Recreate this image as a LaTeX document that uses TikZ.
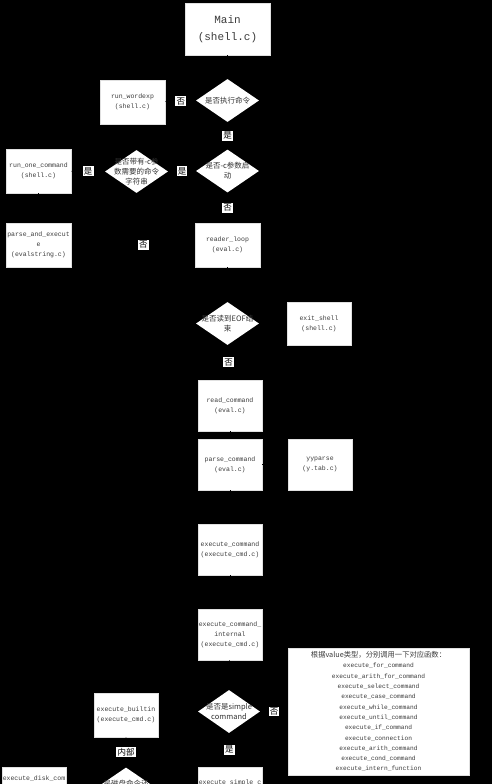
\documentclass[tikz,border=0pt]{standalone}
\usepackage{fontspec}
\setmonofont{Liberation Mono}
\newfontfamily\cjk{Noto Sans CJK SC}
\usetikzlibrary{arrows.meta,positioning,shapes.geometric}
\definecolor{txtgray}{RGB}{60,60,60}
\tikzset{
  fbox/.style={draw=black!12, fill=white, inner sep=0pt, align=center, text=txtgray,
    font=\ttfamily\fontsize{6.5}{10}\selectfont, minimum width=65pt, minimum height=44pt},
  tallbox/.style={fbox, minimum width=64pt, minimum height=51pt},
  ask/.style={diamond, fill=white, inner sep=0pt, minimum width=63pt, minimum height=43pt},
  asktext/.style={align=center, text=black!80, font=\cjk\fontsize{7.5}{10}\selectfont},
  tag/.style={fill=white, inner sep=1.2pt, text=black, font=\cjk\fontsize{8.5}{9}\selectfont},
  flow/.style={draw=black, -{Stealth[length=4pt]}}
}
\begin{document}
\begin{tikzpicture}[x=1pt,y=-1pt]
  \fill[black] (0,0) rectangle (492,784);
  \useasboundingbox (0,0) rectangle (492,784);
  \clip (0,0) rectangle (492,784);

  % entry and start-up checks
  \node[fbox, minimum width=85pt, minimum height=52pt, font=\ttfamily\fontsize{11}{17}\selectfont]
    (main) at (227.5,29) {Main\\(shell.c)};
  \node[ask, label={[asktext]center:是否执行命令}] (askexec) at (227.5,100.5) {};
  \node[fbox] (wordexp) at (132.5,102) {run\_wordexp\\(shell.c)};
  \node[ask, label={[asktext]center:{是否-c参数启\\动}}] (askc) at (227.5,171) {};
  \node[ask, label={[asktext]center:{是否带有-c参\\数需要的命令\\字符串}}] (askstr) at (136.5,171.5) {};
  \node[fbox] (runone) at (38.5,171) {run\_one\_command\\(shell.c)};
  \node[fbox] (parseexec) at (38.5,245) {parse\_and\_execut\\e\\(evalstring.c)};
  \node[fbox] (reader) at (227.5,245) {reader\_loop\\(eval.c)};

  % read loop
  \node[ask, label={[asktext]center:{是否读到EOF结\\束}}] (askeof) at (227.5,323.5) {};
  \node[fbox, minimum width=64pt, minimum height=43pt] (exitsh) at (319,323.5) {exit\_shell\\(shell.c)};
  \node[tallbox] (readcmd) at (230,405.5) {read\_command\\(eval.c)};
  \node[tallbox] (parsecmd) at (230,464.5) {parse\_command\\(eval.c)};
  \node[tallbox] (yyparse) at (320,464.5) {yyparse\\(y.tab.c)};
  \node[tallbox] (execcmd) at (230,549.5) {execute\_command\\(execute\_cmd.c)};
  \node[tallbox] (execint) at (230,634.5) {execute\_command\_\\internal\\(execute\_cmd.c)};

  % command dispatch
  \node[ask, minimum width=62pt, label={[asktext]center:{是否是simple\\command}}] (asksimple) at (229,711.5) {};
  \node[fbox, minimum width=181pt, minimum height=127pt, font=\ttfamily\fontsize{6.2}{10.3}\selectfont]
    (others) at (378.5,711.5) {{\cjk\fontsize{7.3}{10.3}\selectfont 根据value类型，分别调用一下对应函数：}\\
    execute\_for\_command\\execute\_arith\_for\_command\\execute\_select\_command\\
    execute\_case\_command\\execute\_while\_command\\execute\_until\_command\\
    execute\_if\_command\\execute\_connection\\execute\_arith\_command\\
    execute\_cond\_command\\execute\_intern\_function};
  \node[fbox, minimum width=64pt] (builtin) at (126,715) {execute\_builtin\\(execute\_cmd.c)};
  \node[tallbox] (execsimple) at (230,792.5) {execute\_simple\_c\\ommand\\(execute\_cmd.c)};
  \node[ask, label={[asktext]center:{是磁盘命令还\\是内部命令}}] (askdisk) at (126,789) {};
  \node[fbox, minimum width=64pt] (disk) at (34,789) {execute\_disk\_com\\mand\\(execute\_cmd.c)};

  % connectors
  \draw[flow] (main) -- (askexec);
  \draw[flow] (askexec) -- node[tag] {否} (wordexp);
  \draw[flow] (askexec) -- node[tag] {是} (askc);
  \draw[flow] (askc) -- node[tag] {是} (askstr);
  \draw[flow] (askstr) -- node[tag] {是} (runone);
  \draw[flow] (runone) -- (parseexec);
  \draw[flow] (askstr.south) |- node[tag, pos=0.56] {否} (reader.west);
  \draw[flow] (askc) -- node[tag] {否} (reader);
  \draw[flow] (reader) -- (askeof);
  \draw[flow] (askeof) -- (exitsh);
  \draw[flow] (askeof) -- node[tag] {否} (readcmd);
  \draw[flow] (readcmd) -- (parsecmd);
  \draw[flow] (parsecmd) -- (yyparse);
  \draw[flow] (parsecmd) -- (execcmd);
  \draw[flow] (execcmd) -- (execint);
  \draw[flow] (execint) -- (asksimple);
  \draw[flow] (asksimple) -- node[tag] {否} (others);
  \draw[flow] (asksimple) -- node[tag] {是} (execsimple);
  \draw[flow] (execsimple) -- (askdisk);
  \draw[flow] (askdisk) -- node[tag] {内部} (builtin);
  \draw[flow] (askdisk) -- (disk);
\end{tikzpicture}
\end{document}
